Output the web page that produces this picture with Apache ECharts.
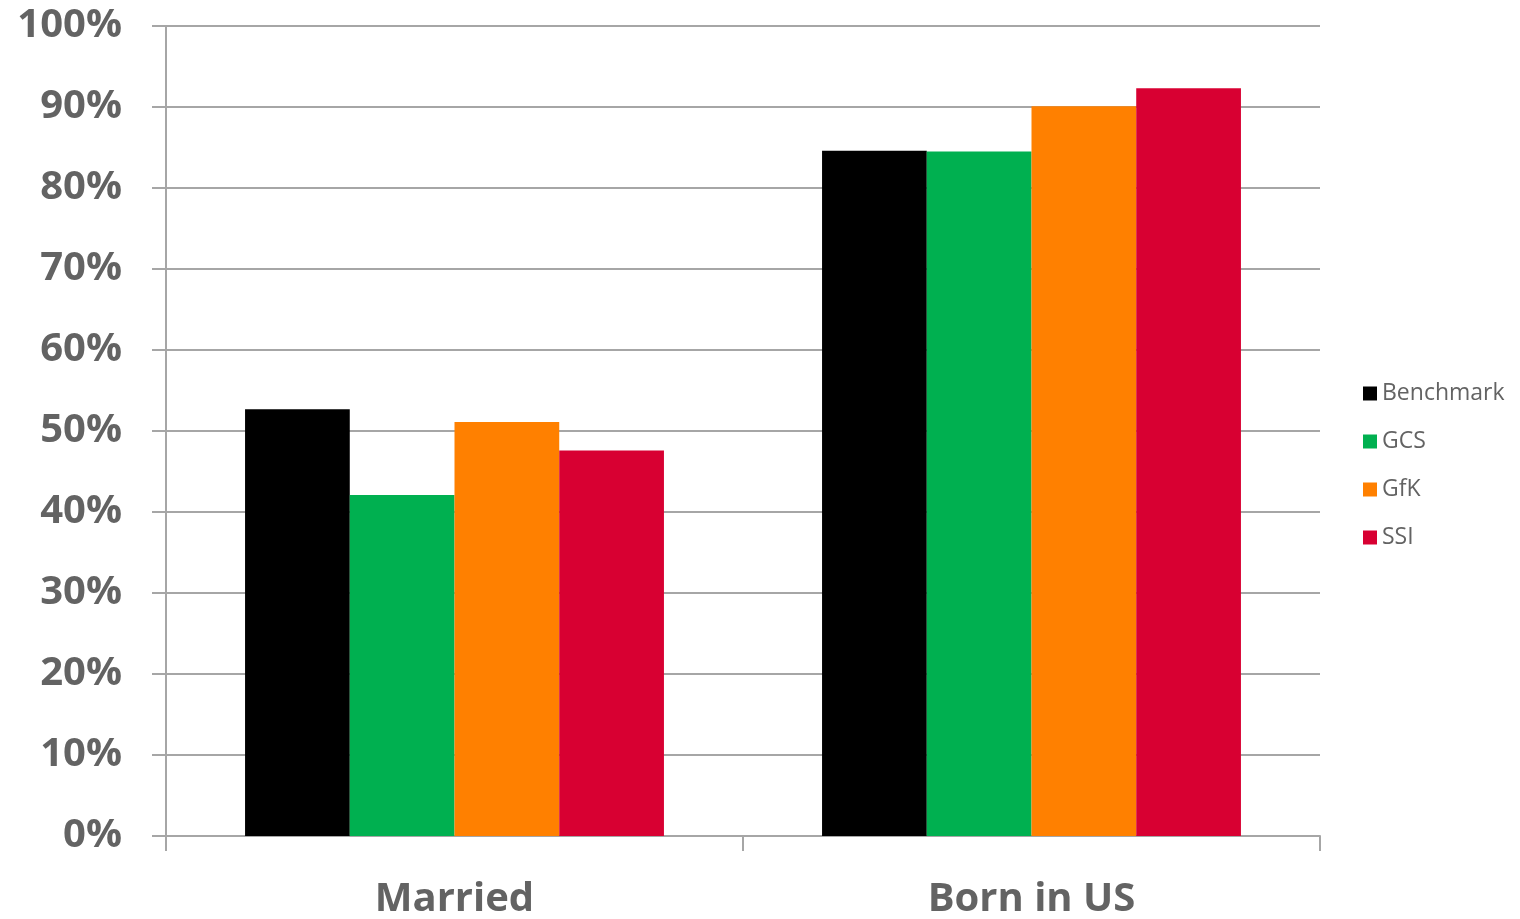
<!DOCTYPE html>
<html>
<head>
<meta charset="utf-8">
<title>Married / Born in US</title>
<script src="https://cdn.jsdelivr.net/npm/echarts@6/dist/echarts.min.js"></script>
<style>
  html, body { margin: 0; padding: 0; background: #fff; }
  #chart { width: 1520px; height: 919px; }
</style>
</head>
<body>
<div id="chart"></div>
<script>
const categories = ['Married', 'Born in US']
const seriesNames = ['Benchmark', 'GCS', 'GfK', 'SSI']
const benchmark = [52.7, 84.6]
const gcs = [42.1, 84.5]
const gfk = [51.1, 90.1]
const ssi = [47.6, 92.3]
const colors = ['#000000', '#00B050', '#FF8000', '#D80032']

const chart = echarts.init(document.getElementById('chart'))

const axisGray = '#A6A6A6'
const textGray = '#636363'

function bar(name, data, color) {
  return {
    name: name,
    type: 'bar',
    data: data,
    barGap: '0%',
    barCategoryGap: '27.4%',
    itemStyle: { color: color },
  }
}

const option = {
  animation: false,
  backgroundColor: '#fff',
  textStyle: { fontFamily: 'Open Sans' },
  grid: {
    left: 166,
    right: 200,
    top: 26,
    bottom: 83,
    outerBoundsMode: 'none',
  },
  legend: {
    orient: 'vertical',
    left: 1363,
    top: 382,
    padding: 0,
    itemWidth: 14,
    itemHeight: 14,
    itemGap: 25,
    icon: 'rect',
    textStyle: {
      color: textGray,
      fontSize: 23,
      fontFamily: 'Open Sans',
    },
    data: seriesNames,
  },
  xAxis: {
    type: 'category',
    data: categories,
    axisLine: { lineStyle: { color: axisGray, width: 2 } },
    axisTick: { show: true, length: 15, lineStyle: { color: axisGray, width: 2 } },
    axisLabel: {
      color: textGray,
      fontSize: 40,
      fontWeight: 'bold',
      margin: 44,
    },
  },
  yAxis: {
    type: 'value',
    min: 0,
    max: 100,
    interval: 10,
    axisLine: { show: true, lineStyle: { color: axisGray, width: 2 } },
    axisTick: { show: true, length: 14, lineStyle: { color: axisGray, width: 2 } },
    splitLine: { lineStyle: { color: axisGray, width: 2 } },
    axisLabel: {
      color: textGray,
      fontSize: 40,
      fontWeight: 'bold',
      margin: 44,
      formatter: '{value}%',
    },
  },
  series: [
    bar(seriesNames[0], benchmark, colors[0]),
    bar(seriesNames[1], gcs, colors[1]),
    bar(seriesNames[2], gfk, colors[2]),
    bar(seriesNames[3], ssi, colors[3]),
  ],
}

chart.setOption(option)
</script>
</body>
</html>
